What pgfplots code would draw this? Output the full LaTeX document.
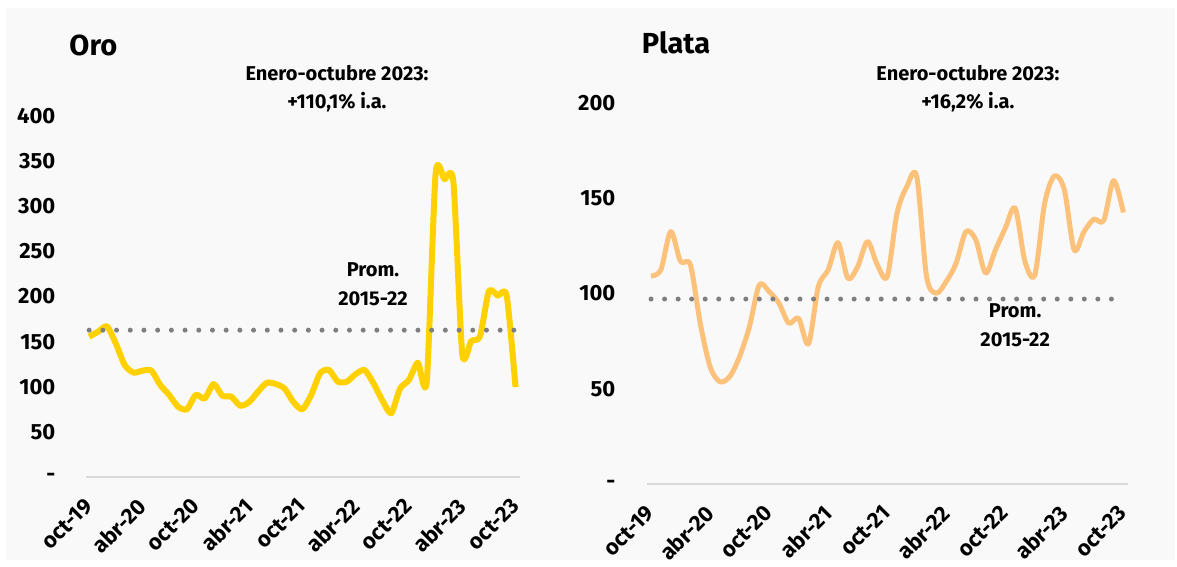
\documentclass[border=0pt]{standalone}
\usepackage{pgfplots}
\pgfplotsset{compat=1.18}
\usepackage{fontspec}
\setmainfont{Fira Sans}
\definecolor{oro}{HTML}{FFD100}
\definecolor{plata}{HTML}{FCC27B}
\definecolor{fondo}{HTML}{F9F9F9}
\definecolor{prom}{HTML}{7F7F7F}
\definecolor{eje}{HTML}{D9D9D9}

\pgfplotsset{panel/.style={
  scale only axis, clip=false,
  axis x line=bottom, axis y line=left,
  x axis line style={-, draw=eje, line width=1pt},
  y axis line style={draw=none},
  tick style={draw=none},
  xtick={0,6,...,48},
  xticklabels={oct-19,abr-20,oct-20,abr-21,oct-21,abr-22,oct-22,abr-23,oct-23},
  xticklabel style={xshift=-3.1pt, yshift=-7.5pt, rotate=45, anchor=north east, inner sep=0pt},
  yticklabel style={anchor=east, inner sep=0pt, xshift=-13.25pt},
  ticklabel style={font=\fontsize{11}{13}\selectfont\bfseries},
  /pgf/number format/assume math mode=true,
  ymin=0,
}}
\tikzset{nota/.style={font=\fontsize{10}{12}\selectfont\bfseries, anchor=base, inner sep=0pt},
  titulo/.style={font=\fontsize{14.5}{16}\selectfont\bfseries, anchor=base west, inner sep=0pt}}

\begin{document}
\begin{tikzpicture}[x=1pt,y=1pt]
\fill[white] (0,0) rectangle (588.5,-283.5);
\fill[fondo] (3,-4) rectangle (587.5,-280);

% Oro
\begin{axis}[panel, at={(43.25pt,-238.5pt)}, anchor=south west,
  width=216.75pt, height=180.5pt, xmin=-0.3, xmax=48.5, ymax=400,
  ytick={0,50,...,400},
  yticklabels={{-\hspace{5.5pt}},50,100,150,200,250,300,350,400}]
\addplot[oro, line width=3pt, smooth, tension=0.4, line join=round] coordinates {
(0,155.5) (1,161) (2,167) (3,148) (4,124) (5,115.6) (6,117.8) (7,118)
(8,102) (9,91) (10,78) (11,75) (12,91) (13,87) (14,103) (15,90)
(16,89) (17,79) (18,83) (19,94.5) (20,104.5) (21,103) (22,98) (23,83)
(24,75) (25,91) (26,115) (27,118.6) (28,105.6) (29,105.6) (30,114) (31,118.6)
(32,104) (33,85) (34,70.6) (35,98) (36,107.5) (37,126.7) (38,105.6) (39,336)
(40,330) (41,327) (42,136.6) (43,150.6) (44,156) (45,206) (46,201) (47,201)
(48,99.7)};
\addplot[prom, line width=2.5pt, line cap=round, dash pattern=on 0pt off 6.85pt]
  coordinates {(0,162.7) (48,162.7)};
\node[titulo] at (axis cs:-2.26,466.5) {Oro};
\node[nota] at (axis cs:27.9,438.8) {Enero-octubre 2023:};
\node[nota] at (axis cs:27.9,407.8) {+110,1\% i.a.};
\node[nota] at (axis cs:31.95,222) {Prom.};
\node[nota] at (axis cs:31.95,190) {2015-22};
\end{axis}

% Plata
\begin{axis}[panel, at={(323.25pt,-242pt)}, anchor=south west,
  width=240.7pt, height=190.5pt, xmin=-0.46, xmax=48.46, ymax=200,
  ytick={0,50,...,200},
  yticklabels={{-\hspace{5.5pt}},50,100,150,200}]
\addplot[plata, line width=2.5pt, smooth, line join=round] coordinates {
(0,109.2) (1,112.4) (2,132.5) (3,116.8) (4,115) (5,84.4) (6,61.6) (7,53.7)
(8,56.4) (9,66.9) (10,82.6) (11,104.5) (12,101) (13,94.9) (14,84.4) (15,87)
(16,73.5) (17,103.6) (18,112.4) (19,126.7) (20,108) (21,114.1) (22,127.3) (23,115)
(24,108.9) (25,142.2) (26,156.2) (27,161.4) (28,108.9) (29,100.2) (30,106.3) (31,115.9)
(32,132.5) (33,128.2) (34,110.7) (35,122.9) (36,134.3) (37,144.8) (38,116.8) (39,109.8)
(40,147.4) (41,161.8) (42,154.4) (43,122.9) (44,132.5) (45,139) (46,138.3) (47,159.3)
(48,142.5)};
\addplot[prom, line width=2.5pt, line cap=round, dash pattern=on 0pt off 6.77pt]
  coordinates {(0,97.1) (48,97.1)};
\node[titulo] at (axis cs:-0.96,226.1) {Plata};
\node[nota] at (axis cs:32.2,212) {Enero-octubre 2023:};
\node[nota] at (axis cs:32.2,197.2) {+16,2\% i.a.};
\node[nota] at (axis cs:37.0,87.4) {Prom.};
\node[nota] at (axis cs:37.0,72.2) {2015-22};
\end{axis}
\end{tikzpicture}
\end{document}
